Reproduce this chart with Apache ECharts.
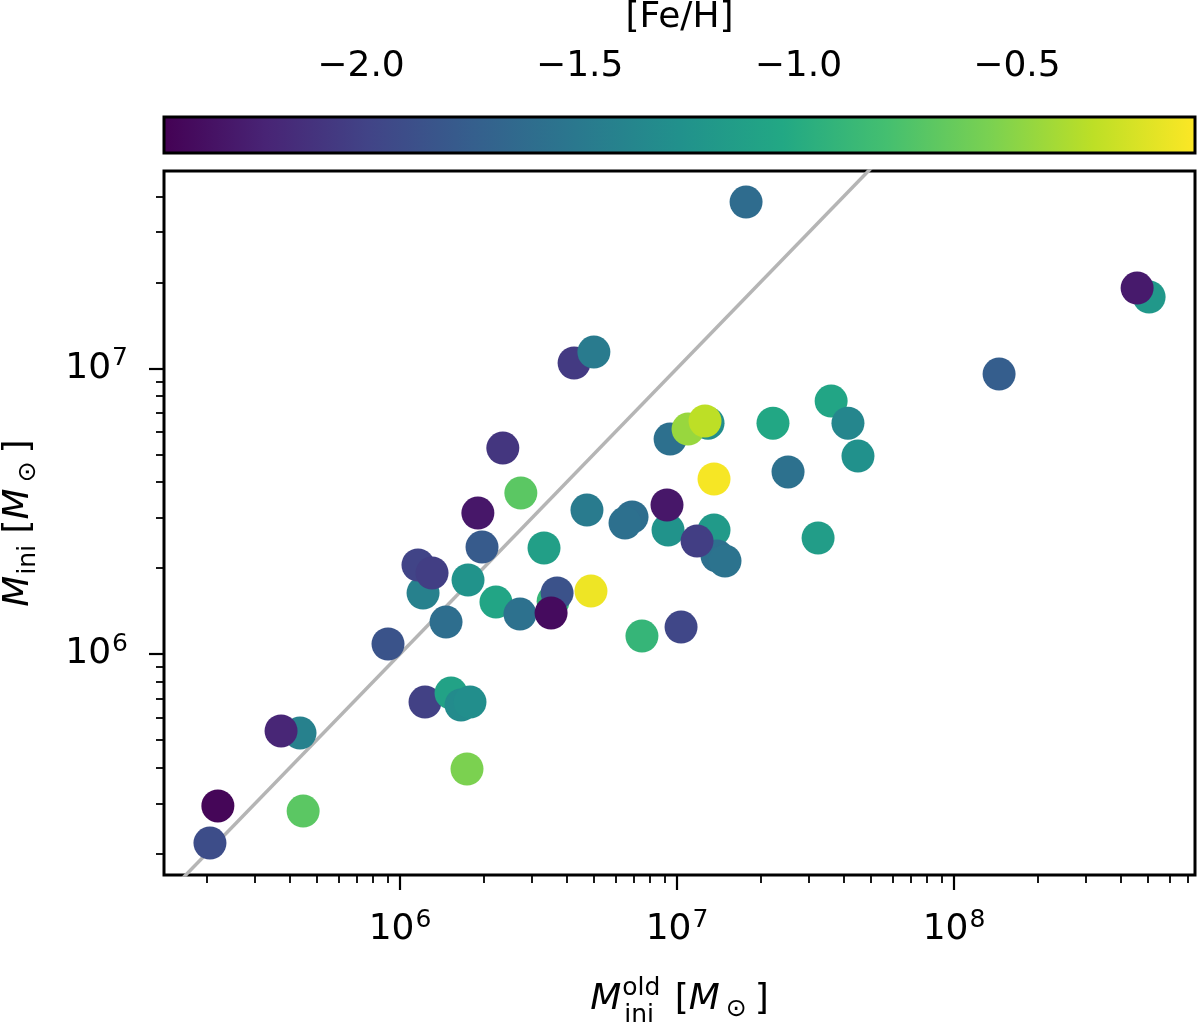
<!DOCTYPE html>
<html><head><meta charset="utf-8">
<script src="https://cdn.jsdelivr.net/npm/echarts@6/dist/echarts.min.js"></script>
<style>html,body{margin:0;padding:0;background:#fff}#c{width:1200px;height:1022px}</style>
</head><body><div id="c"></div>
<script>
// ---- data ----
const massOld = [1.775e7,4.25e6,5.01e6,2.35e6,2.73e6,1.91e6,1.977e6,1.211e6,1.161e6,1.305e6,
  1.76e6,3.31e6,4.73e6,2.22e6,2.71e6,3.57e6,3.69e6,3.51e6,4.89e6,1.466e6,
  9.05e5,1.231e6,1.528e6,1.66e6,1.789e6,1.745e6,4.355e5,3.72e5,4.47e5,2.20e5,
  2.06e5,9.44e6,1.294e7,1.096e7,1.262e7,2.22e7,3.60e7,4.14e7,4.50e7,2.516e7,
  1.36e7,6.88e6,6.49e6,9.28e6,9.20e6,1.36e7,1.394e7,1.49e7,1.181e7,3.23e7,
  7.47e6,1.034e7,5.06e8,4.58e8,1.454e8];
const massIni = [3.82e7,1.044e7,1.14e7,5.26e6,3.66e6,3.115e6,2.368e6,1.635e6,2.049e6,1.921e6,
  1.816e6,2.35e6,3.19e6,1.52e6,1.38e6,1.53e6,1.635e6,1.392e6,1.661e6,1.294e6,
  1.084e6,6.79e5,7.30e5,6.63e5,6.79e5,3.96e5,5.29e5,5.38e5,2.82e5,2.94e5,
  2.18e5,5.655e6,6.43e6,6.13e6,6.54e6,6.43e6,7.68e6,6.43e6,4.93e6,4.34e6,
  4.10e6,3.017e6,2.874e6,2.716e6,3.323e6,2.716e6,2.203e6,2.116e6,2.486e6,2.547e6,
  1.156e6,1.243e6,1.777e7,1.91e7,9.55e6];
const feh = [-1.62,-2.05,-1.48,-2.08,-0.70,-2.30,-1.78,-1.42,-1.98,-2.02,
  -1.25,-1.13,-1.48,-1.07,-1.57,-0.90,-1.86,-2.38,-0.15,-1.60,
  -1.85,-2.00,-1.10,-1.33,-1.30,-0.56,-1.42,-2.20,-0.70,-2.42,
  -1.90,-1.58,-1.30,-0.46,-0.33,-1.05,-1.07,-1.38,-1.27,-1.57,
  -0.12,-1.60,-1.58,-1.25,-2.30,-1.18,-1.58,-1.55,-2.02,-1.15,
  -0.90,-1.95,-1.20,-2.28,-1.75];
const oneToOneX = [1e5, 1e9];
const oneToOneY = [1e5, 1e9];
const xRange = [1.406e5, 7.41e8];
const yRange = [1.685e5, 4.906e7];
const cbRange = [-2.4505, -0.093];
const xMajorTicks = [1e6, 1e7, 1e8];
const yMajorTicks = [1e6, 1e7];
const cbTicks = [-2.0, -1.5, -1.0, -0.5];
const viridis = ['#440154','#482475','#414487','#355f8d','#2a788e','#21918c','#22a884','#44bf70','#7ad151','#bddf26','#fde725'];

function minorTicks(lo, hi) {
  const out = [];
  for (let e = Math.floor(Math.log10(lo)); e <= Math.ceil(Math.log10(hi)); e++) {
    for (let k = 2; k <= 9; k++) { const v = k * Math.pow(10, e); if (v >= lo && v <= hi) out.push(v); }
  }
  return out;
}
const FONT = "'DejaVu Sans', sans-serif";
const powLabel = v => '{b|10}{s|' + Math.round(Math.log10(v)) + '}';
const powRich = {
  b: { fontSize: 36, fontFamily: FONT, color: '#000', lineHeight: 40 },
  s: { fontSize: 25, fontFamily: FONT, color: '#000', lineHeight: 26, padding: [0, 0, 20, 1] }
};
const tok = (extra) => Object.assign({ fontSize: 36, fontFamily: FONT, color: '#000', lineHeight: 40, align: 'left' }, extra);

const chart = echarts.init(document.getElementById('c'));
const scatterData = massOld.map((x, i) => [x, massIni[i], feh[i]]);
const lineData = oneToOneX.map((x, i) => [x, oneToOneY[i]]);

chart.setOption({
  animation: false,
  backgroundColor: '#fff',
  grid: [
    { left: 164, top: 171, width: 1031, height: 704, show: true, borderColor: '#000', borderWidth: 3,
      backgroundColor: 'rgba(0,0,0,0)', outerBoundsMode: 'none', containLabel: false },
    { left: 164, top: 117, width: 1031, height: 36, show: false, outerBoundsMode: 'none', containLabel: false }
  ],
  xAxis: [
    { gridIndex: 0, type: 'log', logBase: 10, min: xRange[0], max: xRange[1], position: 'bottom',
      axisLine: { show: false }, splitLine: { show: false },
      axisTick: { show: true, customValues: xMajorTicks, length: 15, lineStyle: { color: '#000', width: 2.2 } },
      axisLabel: { customValues: xMajorTicks, formatter: powLabel, rich: powRich, margin: 35, color: '#000' },
      name: '{m|M}{sup|old}{sub|ini}{n| [}{m|M}{sub2|⊙}{n|]}',
      nameLocation: 'middle', nameGap: 105, nameMoveOverlap: false,
      nameTextStyle: { align: 'center', rich: {
        m: tok({ fontStyle: 'italic' }),
        n: tok({}),
        sup: tok({ fontSize: 25, lineHeight: 26, padding: [0, 0, 23, 1], width: 1 }),
        sub: tok({ fontSize: 25, lineHeight: 26, padding: [30, 0, 0, 1], width: 39 }),
        sub2: tok({ fontSize: 25, lineHeight: 26, padding: [18, 8, 0, 6] })
      } }
    },
    { gridIndex: 1, type: 'value', min: cbRange[0], max: cbRange[1], position: 'top',
      axisLine: { show: false }, splitLine: { show: false },
      axisTick: { show: true, customValues: cbTicks, length: 16, lineStyle: { color: '#000', width: 2.2 } },
      axisLabel: { customValues: cbTicks, margin: 30, color: '#000', fontSize: 36, fontFamily: FONT, lineHeight: 40,
        formatter: v => (v < 0 ? '\u2212' : '') + Math.abs(v).toFixed(1) },
      name: '[Fe/H]', nameLocation: 'middle', nameGap: 79, nameMoveOverlap: false,
      nameTextStyle: { fontSize: 36, fontFamily: FONT, color: '#000', lineHeight: 40 }
    },
    { gridIndex: 0, type: 'log', logBase: 10, min: xRange[0], max: xRange[1], position: 'bottom',
      axisLine: { show: false }, splitLine: { show: false }, axisLabel: { show: false },
      axisTick: { show: true, customValues: minorTicks(xRange[0], xRange[1]), length: 8, lineStyle: { color: '#000', width: 1.8 } }
    }
  ],
  yAxis: [
    { gridIndex: 0, type: 'log', logBase: 10, min: yRange[0], max: yRange[1], position: 'left',
      axisLine: { show: false }, splitLine: { show: false },
      axisTick: { show: true, customValues: yMajorTicks, length: 15, lineStyle: { color: '#000', width: 2.2 } },
      axisLabel: { customValues: yMajorTicks, formatter: powLabel, rich: powRich, margin: 36, color: '#000' },
      name: '{m|M}{sub|ini}{n| [}{m|M}{sub2|⊙}{n|]}',
      nameLocation: 'middle', nameGap: 125, nameMoveOverlap: false,
      nameTextStyle: { rich: {
        m: tok({ fontStyle: 'italic' }),
        n: tok({}),
        sub: tok({ fontSize: 25, lineHeight: 26, padding: [18, 0, 0, 1] }),
        sub2: tok({ fontSize: 25, lineHeight: 26, padding: [18, 8, 0, 6] })
      } }
    },
    { gridIndex: 1, type: 'value', min: 0, max: 1, show: false },
    { gridIndex: 0, type: 'log', logBase: 10, min: yRange[0], max: yRange[1], position: 'left',
      axisLine: { show: false }, splitLine: { show: false }, axisLabel: { show: false },
      axisTick: { show: true, customValues: minorTicks(yRange[0], yRange[1]), length: 8, lineStyle: { color: '#000', width: 1.8 } }
    }
  ],
  visualMap: {
    type: 'continuous', show: false, seriesIndex: 1, dimension: 2,
    min: cbRange[0], max: cbRange[1], inRange: { color: viridis }
  },
  series: [
    { type: 'line', xAxisIndex: 0, yAxisIndex: 0, data: lineData, showSymbol: false, symbol: 'none',
      clip: true, lineStyle: { color: '#b5b5b5', width: 3.5 }, z: 1, silent: true },
    { type: 'scatter', xAxisIndex: 0, yAxisIndex: 0, data: scatterData, symbolSize: 33,
      itemStyle: { opacity: 1 }, z: 3, silent: true },
    { type: 'custom', xAxisIndex: 1, yAxisIndex: 1, data: [[cbRange[0], 0]], silent: true, z: 2,
      renderItem: function (params, api) {
        const p0 = api.coord([cbRange[0], 1]);
        const p1 = api.coord([cbRange[1], 0]);
        return { type: 'rect',
          shape: { x: p0[0], y: p0[1], width: p1[0] - p0[0], height: p1[1] - p0[1] },
          style: { fill: { type: 'linear', x: 0, y: 0, x2: 1, y2: 0,
              colorStops: viridis.map((c, i) => ({ offset: i / (viridis.length - 1), color: c })) },
            stroke: '#000', lineWidth: 3 } };
      }
    }
  ]
});
</script></body></html>
